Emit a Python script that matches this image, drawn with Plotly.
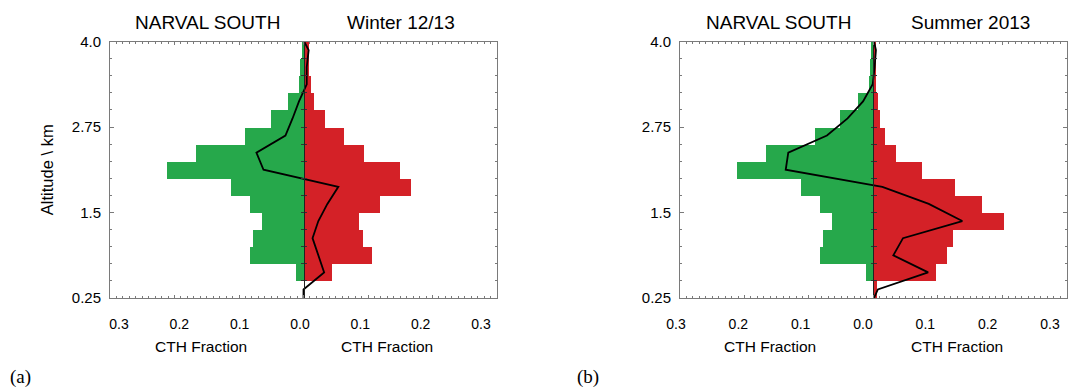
import plotly.graph_objects as go

# Altitude bins (km): 15 bins of 0.25 km between 0.25 and 4.0
bin_centers = [0.375, 0.625, 0.875, 1.125, 1.375, 1.625, 1.875, 2.125,
               2.375, 2.625, 2.875, 3.125, 3.375, 3.625, 3.875]
bin_width = 0.25

# Cloud-top-height fractions, NARVAL South flights (same in both panels)
narval_south = [0.0, 0.012, 0.083, 0.078, 0.064, 0.083, 0.112, 0.211,
                0.166, 0.090, 0.051, 0.024, 0.007, 0.005, 0.003]

# Cloud-top-height fractions, climatology
winter_1213 = [0.0, 0.044, 0.106, 0.092, 0.086, 0.119, 0.166, 0.150,
               0.094, 0.063, 0.034, 0.016, 0.011, 0.009, 0.009]
summer_2013 = [0.005, 0.097, 0.114, 0.124, 0.203, 0.169, 0.127, 0.075,
               0.035, 0.018, 0.010, 0.007, 0.004, 0.004, 0.004]

# Difference profiles (climatology minus NARVAL), with end points at 0.25 and 4.0 km
diff_alt = [0.25] + bin_centers + [4.0]
winter_diff = [0.0, 0.0, 0.032, 0.023, 0.014, 0.023, 0.037, 0.054, -0.062,
               -0.073, -0.028, -0.017, -0.007, 0.005, 0.005, 0.008, 0.001]
summer_diff = [0.001, 0.007, 0.085, 0.031, 0.046, 0.138, 0.086, 0.014, -0.136,
               -0.132, -0.072, -0.040, -0.016, -0.001, 0.002, 0.004, 0.001]

ytick_vals = [0.25, 1.5, 2.75, 4.0]
ytick_text = ["0.25", "1.5", "2.75", "4.0"]
xlabel_vals = [-0.3, -0.2, -0.1, 0.0, 0.1, 0.2, 0.3]
xlabel_text = ["0.3", "0.2", "0.1", "0.0", "0.1", "0.2", "0.3"]

panels = [
    {"season": winter_1213, "diff": winter_diff, "label": "(a)", "title": "Winter 12/13"},
    {"season": summer_2013, "diff": summer_diff, "label": "(b)", "title": "Summer 2013"},
]

W, H = 1079, 387
GREEN = "#26A84B"
RED = "#D42127"
FRAME = "#7a7a7a"
FONT = "Liberation Sans, Arial, Helvetica, sans-serif"

# pixel geometry of each panel: (left, right) plot edges and tick-label strip
px_left = [110, 680]
px_right = [497, 1066.7]
lab_left = [119, 676]
lab_right = [481, 1050]
cth_centers = [(200.5, 387), (770, 957)]
title_centers = [(207, 400.5), (778, 970)]
tag_x = [8, 575]
py_top, py_bottom = 41.5, 298

ydom = [1 - py_bottom / H, 1 - py_top / H]

fig = go.Figure()
layout = dict(
    width=W, height=H,
    margin=dict(l=0, r=0, t=0, b=0, pad=0, autoexpand=False),
    paper_bgcolor="white", plot_bgcolor="rgba(0,0,0,0)",
    barmode="overlay", bargap=0,
    showlegend=False,
    font=dict(family=FONT, color="black"),
)
annotations = []

for i, p in enumerate(panels):
    n = 4 * i
    xa, ya = f"x{n + 1 if n else ''}", f"y{n + 1 if n else ''}"
    yc1, yc2 = f"y{n + 2}", f"y{n + 3}"
    xl, yl = f"x{n + 4}", f"y{n + 4}"
    xa_key = "xaxis" + (str(n + 1) if n else "")
    ya_key = "yaxis" + (str(n + 1) if n else "")

    xdom = [px_left[i] / W, px_right[i] / W]
    xcenter = (xdom[0] + xdom[1]) / 2

    # NARVAL South to the left, climatology to the right
    fig.add_trace(go.Bar(
        y=bin_centers, x=[-v for v in narval_south], orientation="h",
        width=bin_width, marker=dict(color=GREEN, line=dict(width=0)),
        xaxis=xa, yaxis=ya, hoverinfo="skip"))
    fig.add_trace(go.Bar(
        y=bin_centers, x=p["season"], orientation="h",
        width=bin_width, marker=dict(color=RED, line=dict(width=0)),
        xaxis=xa, yaxis=ya, hoverinfo="skip"))
    fig.add_trace(go.Scatter(
        y=diff_alt, x=p["diff"], mode="lines",
        line=dict(color="black", width=1.8),
        xaxis=xa, yaxis=ya, hoverinfo="skip"))

    # empty traces so the helper axes get drawn
    for ax_y in (yc1, yc2):
        fig.add_trace(go.Scatter(x=[], y=[], xaxis=xa, yaxis=ax_y, hoverinfo="skip"))
    fig.add_trace(go.Scatter(x=[], y=[], xaxis=xl, yaxis=yl, hoverinfo="skip"))

    layout[xa_key] = dict(
        domain=xdom, range=[-0.3, 0.3], anchor=ya, automargin=False,
        showgrid=False, zeroline=False, showticklabels=False,
        showline=True, linecolor=FRAME, linewidth=1, mirror="ticks",
        ticks="inside", tick0=0, dtick=0.1, ticklen=3.5, tickcolor=FRAME, tickwidth=1,
        minor=dict(dtick=0.01, tick0=0, ticks="inside", ticklen=2,
                   tickcolor=FRAME, tickwidth=1, showgrid=False),
    )
    layout[ya_key] = dict(
        domain=ydom, range=[0.25, 4.0], anchor=xa, automargin=False,
        showgrid=False, zeroline=False,
        showline=True, linecolor=FRAME, linewidth=1, mirror="ticks",
        ticks="inside", tickmode="array", tickvals=ytick_vals, ticktext=ytick_text,
        ticklen=3.5, tickcolor=FRAME, tickwidth=1,
        tickfont=dict(size=15, family=FONT, color="black"), ticklabelstandoff=5,
        minor=dict(dtick=0.25, tick0=0.25, ticks="inside", ticklen=2,
                   tickcolor=FRAME, tickwidth=1, showgrid=False),
    )
    if i == 0:
        layout[ya_key]["title"] = dict(
            text="Altitude \\ km", font=dict(size=16.5, family=FONT), standoff=14)

    # zero line with short ticks on both sides
    for key, side in ((yc1, "left"), (yc2, "right")):
        layout["yaxis" + key[1:]] = dict(
            overlaying=ya, anchor="free", position=xcenter, side=side, automargin=False,
            range=[0.25, 4.0], showgrid=False, zeroline=False, showticklabels=False,
            showline=True, linecolor="#222222", linewidth=1,
            ticks="inside", tick0=0.25, dtick=0.25, ticklen=2.5,
            tickcolor="#333333", tickwidth=1,
        )

    # fraction tick labels
    layout["xaxis" + xl[1:]] = dict(
        domain=[lab_left[i] / W, lab_right[i] / W], range=[-0.3, 0.3], anchor=yl,
        automargin=False,
        showgrid=False, zeroline=False, showline=False, ticks="",
        tickmode="array", tickvals=xlabel_vals, ticktext=xlabel_text,
        tickfont=dict(size=14, family=FONT, color="black"), ticklabelstandoff=16,
    )
    layout["yaxis" + yl[1:]] = dict(domain=ydom, range=[0, 1], visible=False,
                                    automargin=False)

    for cx in cth_centers[i]:
        annotations.append(dict(
            text="CTH Fraction", x=cx / W, y=1 - 346.5 / H, xref="paper", yref="paper",
            xanchor="center", yanchor="middle", showarrow=False,
            font=dict(size=15.5, family=FONT, color="black")))
    for cx, txt in zip(title_centers[i], ["NARVAL SOUTH", p["title"]]):
        annotations.append(dict(
            text=txt, x=cx / W, y=1 - 22.5 / H, xref="paper", yref="paper",
            xanchor="center", yanchor="middle", showarrow=False,
            font=dict(size=19, family=FONT, color="black")))
    annotations.append(dict(
        text=p["label"], x=tag_x[i] / W, y=1 - 377 / H, xref="paper", yref="paper",
        xanchor="left", yanchor="middle", showarrow=False,
        font=dict(size=19, family="Liberation Serif, Times New Roman, serif", color="black")))

layout["annotations"] = annotations
fig.update_layout(**layout)
fig.write_html("out.html")
